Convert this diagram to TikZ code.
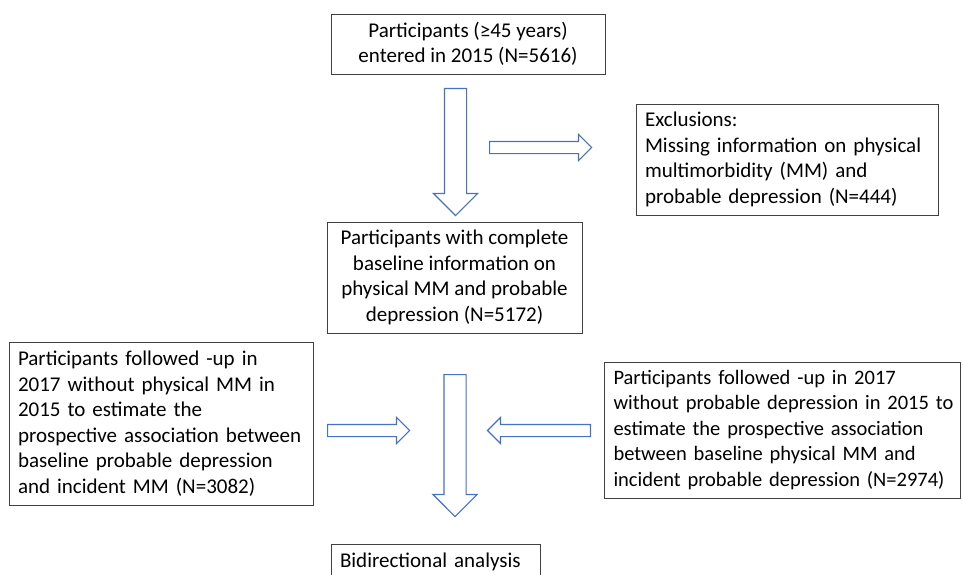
\documentclass[tikz,border=0pt]{standalone}
\usepackage{fontspec}
\setmainfont{Carlito}
\usetikzlibrary{shapes.arrows}
\definecolor{arrowblue}{HTML}{4472C4}
\definecolor{boxgray}{HTML}{404040}

\begin{document}
\begin{tikzpicture}[x=1pt,y=-1pt,
font=\fontsize{21}{25.5}\selectfont,
box/.style={draw=boxgray,line width=0.8pt,inner xsep=9pt,inner ysep=0pt},
bigarrow/.style={single arrow,draw=arrowblue,line width=1.2pt,inner xsep=0pt,inner ysep=10.5pt,single arrow head extend=11pt,anchor=tail},
smallarrow/.style={single arrow,draw=arrowblue,line width=1.2pt,inner xsep=0pt,inner ysep=5.5pt,single arrow head extend=7pt,anchor=tail}]
\useasboundingbox (0,0) rectangle (963,575);

% boxes
\node[box,minimum width=274pt,minimum height=60pt,align=center] (start) at (468,44)
  {Participants (≥45 years)\\entered in 2015 (N=5616)};
\node[box,minimum width=302pt,minimum height=111pt,text width=284pt,align=left] (excl) at (787,159.5)
  {Exclusions:\\Missing information on physical\\multimorbidity (MM) and\\probable depression (N=444)};
\node[box,minimum width=255pt,minimum height=111pt,align=center] (base) at (454.5,277.5)
  {Participants with complete\\baseline information on\\physical MM and probable\\depression (N=5172)};
\node[box,minimum width=304pt,minimum height=163pt,text width=286pt,align=left] (nomm) at (161,423.5)
  {Participants followed -up in\\2017 without physical MM in\\2015 to estimate the\\prospective association between\\baseline probable depression\\and incident MM (N=3082)};
\node[box,font=\fontsize{20.5}{25.5}\selectfont,minimum width=356pt,minimum height=136pt,text width=338pt,align=left] (nodep) at (782.5,430)
  {Participants followed -up in 2017\\\makebox[0pt][l]{without probable depression in 2015 to}\\estimate the prospective association\\between baseline physical MM and\\\makebox[0pt][l]{incident probable depression (N=2974)}};
\node[box,minimum width=209pt,minimum height=36pt,text width=191pt,align=left] (bidir) at (435.5,562)
  {Bidirectional analysis};

% block arrows
\node[bigarrow,minimum height=127pt,rotate=-90] (down1) at (455.5,88) {};
\node[smallarrow,minimum height=102pt] (toexcl) at (489,147.5) {};
\node[bigarrow,minimum height=142pt,rotate=-90] (down2) at (455,374) {};
\node[smallarrow,minimum height=82pt] (fromleft) at (327,430.5) {};
\node[smallarrow,minimum height=103pt,rotate=180] (fromright) at (591,430.5) {};
\end{tikzpicture}
\end{document}
